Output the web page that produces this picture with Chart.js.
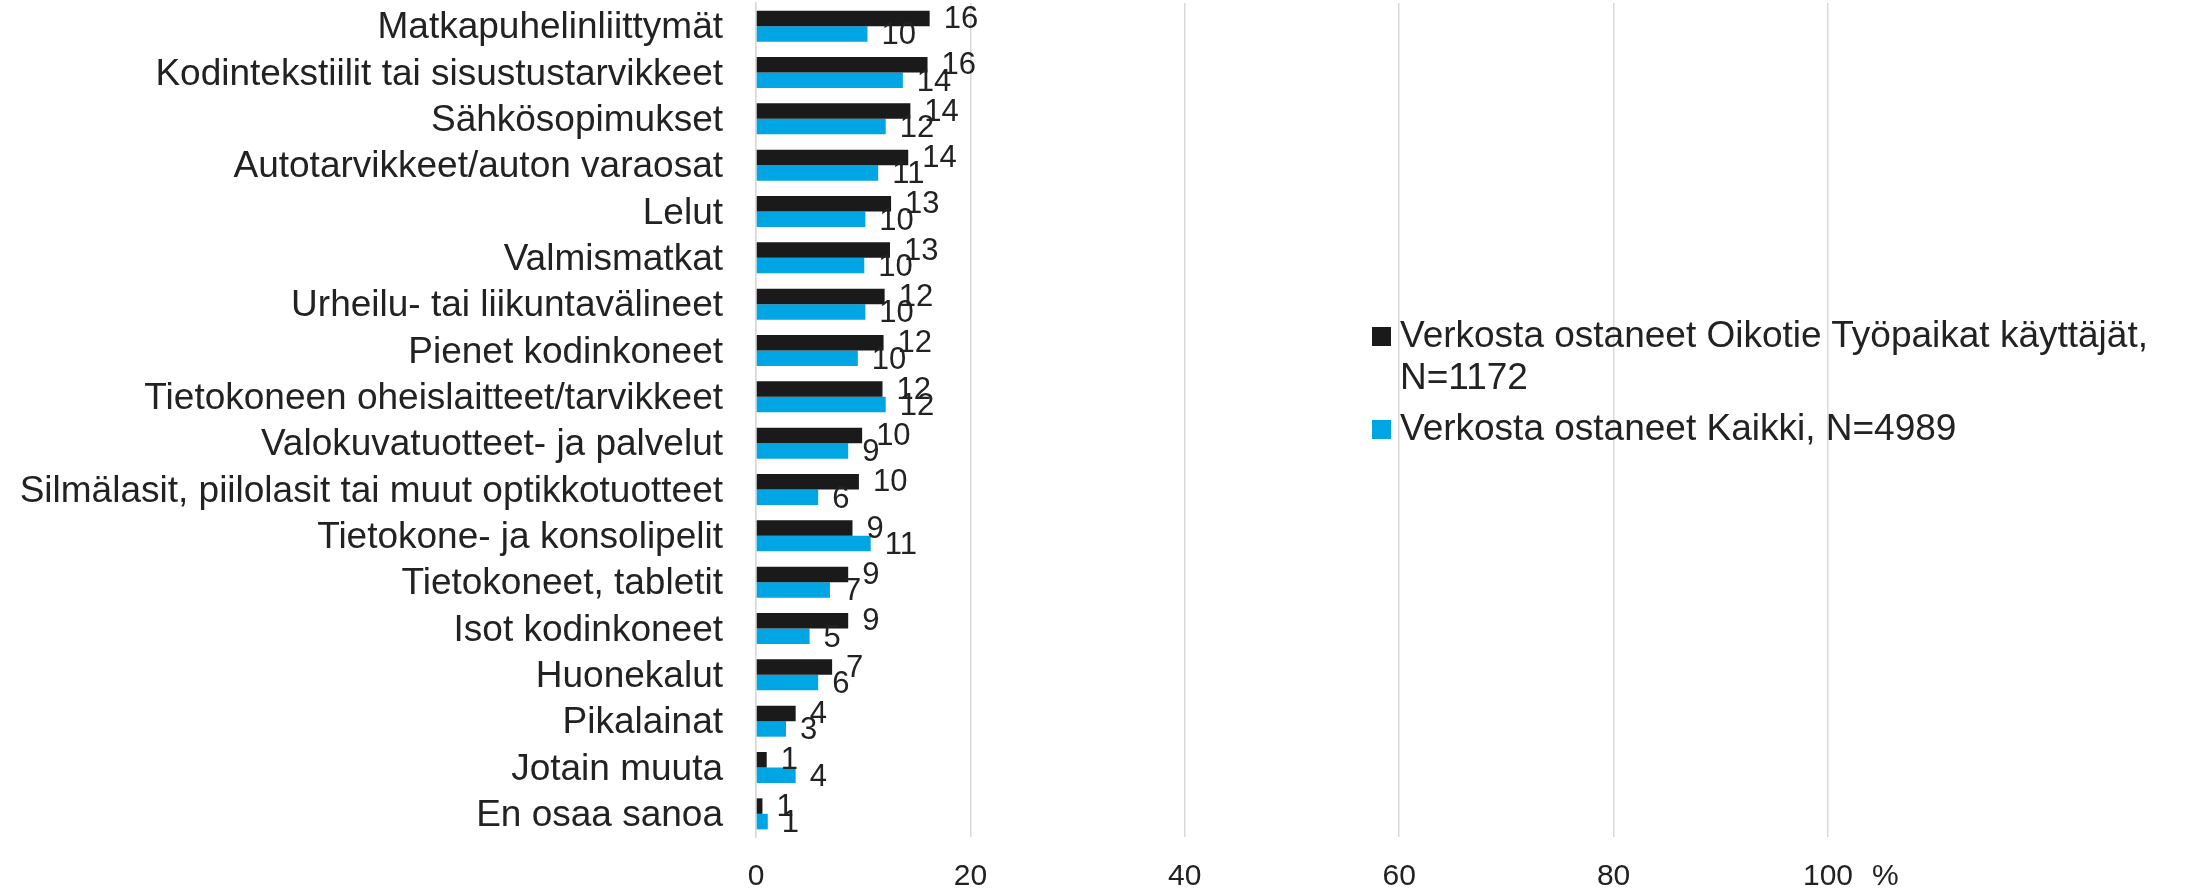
<!DOCTYPE html>
<html>
<head>
<meta charset="utf-8">
<script src="https://cdn.jsdelivr.net/npm/chart.js@4/dist/chart.umd.min.js"></script>
<style>
  body { margin: 0; background: #fff; }
  #wrap { position: relative; width: 2186px; height: 890px; }
  #legend { position: absolute; left: 1372px; top: 314px; font-family: "Liberation Sans", Arial, sans-serif; font-size: 37px; line-height: 42px; color: #222; }
  .item { display: flex; align-items: flex-start; margin-bottom: 9px; }
  .box { width: 19px; height: 19px; margin-top: 13px; margin-right: 9px; flex: none; }
  .txt { width: 790px; }
</style>
</head>
<body>
<div id="wrap">
  <canvas id="chart"></canvas>
  <div id="legend"></div>
</div>
<script>
const categories = [
  "Matkapuhelinliittymät",
  "Kodintekstiilit tai sisustustarvikkeet",
  "Sähkösopimukset",
  "Autotarvikkeet/auton varaosat",
  "Lelut",
  "Valmismatkat",
  "Urheilu- tai liikuntavälineet",
  "Pienet kodinkoneet",
  "Tietokoneen oheislaitteet/tarvikkeet",
  "Valokuvatuotteet- ja palvelut",
  "Silmälasit, piilolasit tai muut optikkotuotteet",
  "Tietokone- ja konsolipelit",
  "Tietokoneet, tabletit",
  "Isot kodinkoneet",
  "Huonekalut",
  "Pikalainat",
  "Jotain muuta",
  "En osaa sanoa",
];

const oikotieName = "Verkosta ostaneet Oikotie Työpaikat käyttäjät, N=1172";
const oikotie = [16.2, 16.0, 14.4, 14.2, 12.6, 12.5, 12.0, 11.9, 11.8, 9.9, 9.6, 9.0, 8.6, 8.6, 7.1, 3.7, 1.0, 0.6];

const kaikkiName = "Verkosta ostaneet Kaikki, N=4989";
const kaikki = [10.4, 13.7, 12.1, 11.4, 10.2, 10.1, 10.2, 9.5, 12.1, 8.6, 5.8, 10.7, 6.9, 5.0, 5.8, 2.8, 3.7, 1.1];

const xTicks = [0, 20, 40, 60, 80, 100];

const FONT = "'Liberation Sans', Arial, sans-serif";
const TEXT = "#222";

// value labels at the bar ends, like the excel "outside end" labels
const valueLabels = {
  id: "valueLabels",
  afterDatasetsDraw(chart) {
    const ctx = chart.ctx;
    ctx.save();
    ctx.font = "31px " + FONT;
    ctx.fillStyle = TEXT;
    ctx.textAlign = "left";
    ctx.textBaseline = "middle";
    chart.data.datasets.forEach((ds, i) => {
      const meta = chart.getDatasetMeta(i);
      meta.data.forEach((bar, j) => {
        ctx.fillText(String(Math.round(ds.data[j])), bar.x + 14, bar.y + (i === 0 ? 1 : 2));
      });
    });
    ctx.restore();
  },
};

// the "%" after the last tick
const percentSign = {
  id: "percentSign",
  afterDraw(chart) {
    const x = chart.scales.x;
    const ctx = chart.ctx;
    ctx.save();
    ctx.font = "30px " + FONT;
    ctx.fillStyle = TEXT;
    ctx.textAlign = "left";
    ctx.textBaseline = "middle";
    ctx.fillText("%", x.getPixelForValue(100) + 44, 877);
    ctx.restore();
  },
};

const chart = new Chart(document.getElementById("chart"), {
  type: "bar",
  plugins: [valueLabels, percentSign],
  data: {
    labels: categories,
    datasets: [
      {
        label: oikotieName,
        data: oikotie,
        backgroundColor: "#1a1a1a",
        categoryPercentage: 0.67,
        barPercentage: 1,
      },
      {
        label: kaikkiName,
        data: kaikki,
        backgroundColor: "#00a5e3",
        categoryPercentage: 0.67,
        barPercentage: 1,
      },
    ],
  },
  options: {
    indexAxis: "y",
    responsive: true,
    maintainAspectRatio: false,
    animation: false,
    layout: { padding: { top: 3, right: 358, bottom: 0, left: 0 } },
    scales: {
      x: {
        min: 0,
        max: 100,
        afterBuildTicks: (s) => { s.ticks = xTicks.map((v) => ({ value: v })); },
        afterFit: (s) => { s.height = 53; s.paddingLeft = 0; s.paddingRight = 0; },
        grid: { color: "#d9d9d9", lineWidth: 1.5, drawTicks: false },
        border: { display: false },
        ticks: {
          padding: 22,
          color: TEXT,
          font: { size: 30, family: FONT },
        },
      },
      y: {
        afterFit: (s) => { s.width = 756; s.paddingTop = 0; s.paddingBottom = 0; },
        grid: { display: false, drawTicks: false },
        border: { display: true, color: "#d9d9d9", width: 1.5 },
        ticks: {
          autoSkip: false,
          padding: 33,
          labelOffset: 2,
          color: TEXT,
          font: { size: 37, family: FONT },
        },
      },
    },
    plugins: {
      legend: { display: false },
      tooltip: { enabled: false },
    },
  },
});

// legend drawn as html over the plot, like in the original
const legendEl = document.getElementById("legend");
chart.data.datasets.forEach((ds) => {
  const item = document.createElement("div");
  item.className = "item";
  item.innerHTML = '<div class="box" style="background:' + ds.backgroundColor + '"></div><div class="txt"></div>';
  item.querySelector(".txt").textContent = ds.label;
  legendEl.appendChild(item);
});
</script>
</body>
</html>
